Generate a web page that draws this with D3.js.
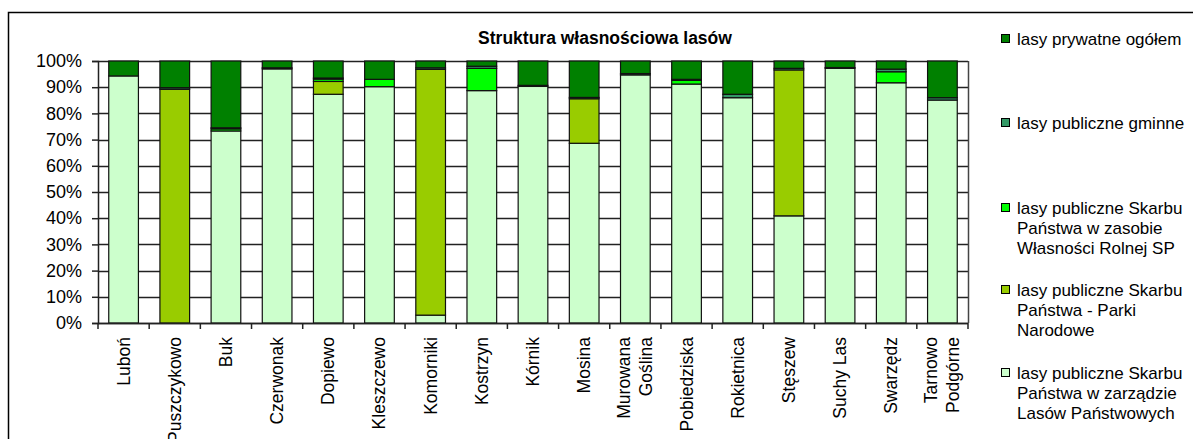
<!DOCTYPE html>
<html>
<head>
<meta charset="utf-8">
<script src="https://cdn.jsdelivr.net/npm/d3@7"></script>
<style>
    body { margin: 0; background: #fff; }
    text { font-family: "Liberation Sans", Arial, sans-serif; fill: #000; }
</style>
</head>
<body>
<div id="chart"></div>
<script>

const gminy = ["Luboń", "Puszczykowo", "Buk", "Czerwonak", "Dopiewo", "Kleszczewo", "Komorniki",
    "Kostrzyn", "Kórnik", "Mosina", "Murowana\nGoślina", "Pobiedziska", "Rokietnica", "Stęszew",
    "Suchy Las", "Swarzędz", "Tarnowo\nPodgórne"];

// udział w %, od dołu słupka
const lasyPanstwowe = [94.3, 0, 73.3, 97.0, 87.3, 90.2, 3.0, 88.7, 90.3, 68.6, 94.7, 91.2, 86.0, 40.9, 97.2, 91.7, 85.1];
const parkiNarodowe = [0, 89.2, 0, 0, 4.9, 0, 93.8, 0, 0, 17.0, 0, 0, 0, 55.7, 0, 0, 0];
const zasobWRSP = [0, 0, 0.8, 0, 0.9, 2.8, 0, 8.5, 0, 0, 0, 1.4, 0, 0, 0, 4.2, 0];
const gminne = [0, 0.6, 0.4, 0.4, 0.4, 0, 0.6, 0.8, 0.4, 0.5, 0.5, 0.4, 1.3, 0.6, 0.3, 1.0, 0.9];
const prywatne = gminy.map((g, i) =>
    100 - lasyPanstwowe[i] - parkiNarodowe[i] - zasobWRSP[i] - gminne[i]);

const yTicks = [0, 10, 20, 30, 40, 50, 60, 70, 80, 90, 100];

const series = [
    { key: "lp", name: "lasy publiczne Skarbu\nPaństwa w zarządzie\nLasów Państwowych", color: "#ccffcc", values: lasyPanstwowe },
    { key: "pn", name: "lasy publiczne Skarbu\nPaństwa - Parki\nNarodowe", color: "#99cc00", values: parkiNarodowe },
    { key: "wr", name: "lasy publiczne Skarbu\nPaństwa w zasobie\nWłasności Rolnej SP", color: "#00ff00", values: zasobWRSP },
    { key: "gm", name: "lasy publiczne gminne", color: "#339966", values: gminne },
    { key: "pr", name: "lasy prywatne ogółem", color: "#008000", values: prywatne }
];

const width = 1193, height = 439;
const plot = { left: 98, right: 968, top: 61, bottom: 323 };

const svg = d3.select("#chart")
    .append("svg")
        .attr("width", width)
        .attr("height", height);

// ramka wykresu
svg.append("rect")
    .attr("x", 8.5)
    .attr("y", 12.5)
    .attr("width", 1250)
    .attr("height", 600)
    .attr("fill", "none")
    .attr("stroke", "#000")
    .attr("stroke-width", 1.5);

svg.append("text")
    .attr("x", 605)
    .attr("y", 44)
    .attr("text-anchor", "middle")
    .attr("font-size", 17.5)
    .attr("font-weight", "bold")
    .text("Struktura własnościowa lasów");

const x = d3.scaleBand()
    .domain(gminy)
    .range([plot.left, plot.right])
    .paddingInner(0.42)
    .paddingOuter(0.21);

const y = d3.scaleLinear()
    .domain([0, 100])
    .range([plot.bottom, plot.top]);

// siatka
svg.append("g")
    .selectAll("line")
    .data(yTicks)
    .enter()
    .append("line")
        .attr("x1", plot.left)
        .attr("x2", plot.right)
        .attr("y1", d => Math.round(y(d)) + 0.5)
        .attr("y2", d => Math.round(y(d)) + 0.5)
        .attr("stroke", "#222")
        .attr("stroke-width", 1.5);

svg.append("line")
    .attr("x1", plot.right + 0.5)
    .attr("x2", plot.right + 0.5)
    .attr("y1", plot.top)
    .attr("y2", plot.bottom)
    .attr("stroke", "#444")
    .attr("stroke-width", 1.5);

const table = gminy.map((g, i) => {
    const row = { gmina: g };
    series.forEach(s => row[s.key] = s.values[i]);
    return row;
});

const stack = d3.stack().keys(series.map(s => s.key))(table);

svg.append("g")
    .selectAll("g")
    .data(stack)
    .enter()
    .append("g")
        .attr("fill", (d, i) => series[i].color)
    .selectAll("rect")
    .data(d => d.filter(p => p[1] - p[0] > 0))
    .enter()
    .append("rect")
        .attr("x", d => x(d.data.gmina))
        .attr("width", x.bandwidth())
        .attr("y", d => y(d[1]))
        .attr("height", d => y(d[0]) - y(d[1]))
        .attr("stroke", "#111")
        .attr("stroke-width", 1.2);

// oś Y
const yAxis = svg.append("g")
    .attr("transform", `translate(${plot.left},0)`)
    .call(d3.axisLeft(y)
        .tickValues(yTicks)
        .tickSize(6)
        .tickPadding(10)
        .tickFormat(d => d + "%"));
yAxis.select(".domain").attr("stroke", "#222").attr("stroke-width", 1.5);
yAxis.selectAll(".tick line").attr("stroke", "#222").attr("stroke-width", 1.5);
yAxis.selectAll(".tick text")
    .attr("font-size", 18)
    .attr("font-family", "Liberation Sans, Arial, sans-serif")
    .attr("fill", "#000");

// oś X
const step = x.step();
const bounds = d3.range(gminy.length + 1).map(i => plot.left + i * step);
svg.append("line")
    .attr("x1", plot.left)
    .attr("x2", plot.right)
    .attr("y1", plot.bottom + 0.5)
    .attr("y2", plot.bottom + 0.5)
    .attr("stroke", "#222")
    .attr("stroke-width", 1.5);
svg.append("g")
    .selectAll("line")
    .data(bounds)
    .enter()
    .append("line")
        .attr("x1", d => d)
        .attr("x2", d => d)
        .attr("y1", plot.bottom)
        .attr("y2", plot.bottom + 6)
        .attr("stroke", "#222")
        .attr("stroke-width", 1.5);

const labels = svg.append("g")
    .selectAll("text")
    .data(gminy)
    .enter()
    .append("text")
        .attr("transform", d => `translate(${x(d) + x.bandwidth() / 2},337) rotate(-90)`)
        .attr("text-anchor", "end")
        .attr("font-size", 17.5);

labels.selectAll("tspan")
    .data(d => {
        const lines = d.split("\n");
        return lines.map((l, i) => ({ text: l, off: (i - (lines.length - 1) / 2) * 22 }));
    })
    .enter()
    .append("tspan")
        .attr("x", 0)
        .attr("y", d => d.off + 6)
        .text(d => d.text);

// legenda
const legendY = [39, 123, 208, 290, 373];
const legend = svg.append("g")
    .selectAll("g")
    .data(series.slice().reverse())
    .enter()
    .append("g")
        .attr("transform", (d, i) => `translate(1001,${legendY[i]})`);

legend.append("rect")
    .attr("x", 0.5)
    .attr("y", -4.5)
    .attr("width", 8)
    .attr("height", 8)
    .attr("fill", d => d.color)
    .attr("stroke", "#000")
    .attr("stroke-width", 1);

legend.append("text")
    .attr("font-size", 17)
    .selectAll("tspan")
    .data(d => d.name.split("\n"))
    .enter()
    .append("tspan")
        .attr("x", 16)
        .attr("y", (d, i) => i * 20 + 6)
        .text(d => d);

</script>
</body>
</html>
